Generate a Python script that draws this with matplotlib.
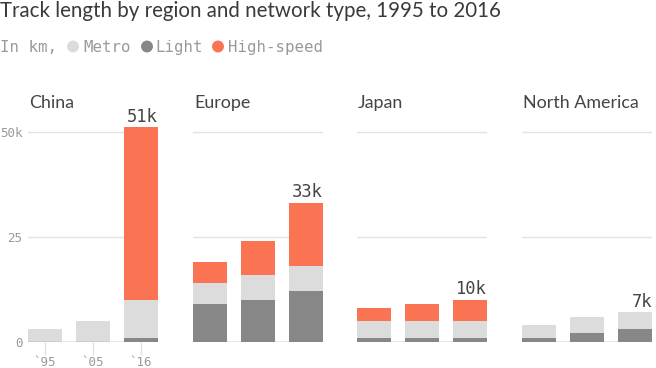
import matplotlib
matplotlib.use("Agg")
import matplotlib.pyplot as plt
import matplotlib.patches as mpatches
import numpy as np

regions = ["China", "Europe", "Japan", "North America"]
years = ["`95", "`05", "`16"]
light = {"China": [0, 0, 1], "Europe": [9, 10, 12], "Japan": [1, 1, 1], "North America": [1, 2, 3]}
metro = {"China": [3, 5, 9], "Europe": [5, 6, 6], "Japan": [4, 4, 4], "North America": [3, 4, 4]}
high_speed = {"China": [0, 0, 41], "Europe": [5, 8, 15], "Japan": [3, 4, 5], "North America": [0, 0, 0]}
total_labels = {"China": "51k", "Europe": "33k", "Japan": "10k", "North America": "7k"}
yticks = [0, 25, 50]
ytick_labels = ["0", "25", "50k"]

C_LIGHT = "#878787"
C_METRO = "#dcdcdc"
C_HS = "#fa7454"
GRID = "#e2e2e2"
MONO = "DejaVu Sans Mono"
SANS = "Lato"

W, H = 656, 368
fig = plt.figure(figsize=(W / 100, H / 100), dpi=100)
renderer = fig.canvas.get_renderer()


def fit_text(t, target_px):
    bb = t.get_window_extent(renderer=renderer)
    t.set_fontsize(t.get_fontsize() * target_px / bb.width)


y0_px = 341.7
px_per_unit = 4.2
ytop = 53
ax_h = ytop * px_per_unit
lefts = [28, 193, 357, 522]
ax_w = 130
bw = 0.708

for i, r in enumerate(regions):
    ax = fig.add_axes([lefts[i] / W, (H - y0_px) / H, ax_w / W, ax_h / H])
    x = np.arange(len(years))
    l = np.array(light[r]); m = np.array(metro[r]); h = np.array(high_speed[r])
    ax.bar(x, l, bw, color=C_LIGHT, zorder=3, linewidth=0)
    ax.bar(x, m, bw, bottom=l, color=C_METRO, zorder=3, linewidth=0)
    ax.bar(x, h, bw, bottom=l + m, color=C_HS, zorder=3, linewidth=0)
    tot = l + m + h
    ax.text(2 + bw / 2, tot[-1] + 0.4, total_labels[r], ha="right", va="bottom",
            family=MONO, fontsize=12.3, color="#444444", zorder=4)
    ax.set_xlim(-bw / 2, 2 + bw / 2)
    ax.set_ylim(0, ytop)
    for yv in yticks[1:]:
        ax.axhline(yv, color=GRID, lw=1, zorder=1)
    for s in ax.spines.values():
        s.set_visible(False)
    ax.axhline(0, color="#8c8c8c", lw=1, zorder=4)
    if i == 0:
        ax.set_yticks(yticks)
        ax.set_yticklabels(ytick_labels, family=MONO, fontsize=9, color="#999999")
        ax.tick_params(axis="y", length=0, pad=4)
        ax.set_xticks(x)
        ax.set_xticklabels(years, family=MONO, fontsize=9, color="#999999")
        ax.tick_params(axis="x", length=9, color=GRID, width=1, pad=1)
        ax.set_xlim(-bw / 2, 2 + bw / 2)
    else:
        ax.set_yticks([])
        ax.set_xticks([])

# panel titles
pt = []
for i, r in enumerate(regions):
    pt.append(fig.text(lefts[i] / W + 1 / W, 1 - 108 / H, r, ha="left", va="baseline",
                       family=SANS, fontsize=12.5, color="#444444"))
ref = pt[3]
fit_text(ref, 116)
for t in pt:
    t.set_fontsize(ref.get_fontsize())

title = fig.text(0, 1 - 17 / H, "Track length by region and network type, 1995 to 2016",
                 ha="left", va="baseline", family=SANS, fontsize=14, color="#3a3a3a")
fit_text(title, 503)

# subtitle legend
sy = 1 - 52 / H
fig.text(0, sy, "In km,", ha="left", va="baseline", family=MONO, fontsize=11.3, color="#999999")
legend_items = [("Metro", C_METRO, 73, 83), ("Light", C_LIGHT, 147, 155), ("High-speed", C_HS, 218, 228)]
for name, col, cx, tx in legend_items:
    fig.patches.append(mpatches.Ellipse((cx / W, 1 - 46.5 / H), 10.5 / W, 10.5 / H,
                                        transform=fig.transFigure, color=col))
    fig.text(tx / W, sy, name, ha="left", va="baseline", family=MONO, fontsize=11.3, color="#999999")

fig.savefig("out.png", dpi=100)
